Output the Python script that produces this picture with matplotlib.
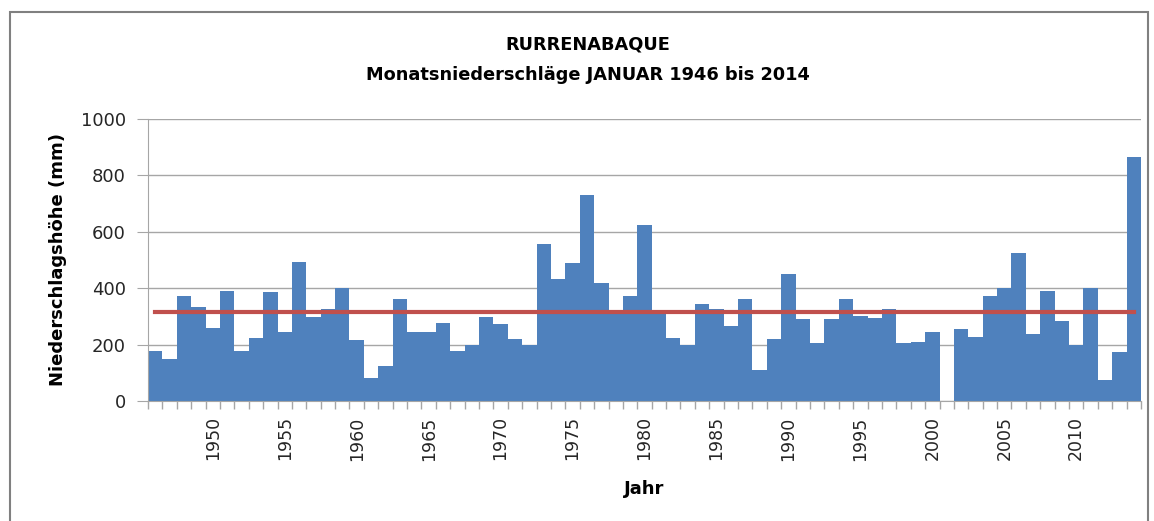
import numpy as np
import matplotlib.pyplot as plt
from matplotlib.patches import Rectangle

# Monatsniederschlag Januar, Rurrenabaque (mm), 2001 fehlt
years = list(range(1946, 2015))
rain = [177, 148, 373, 334, 258, 391, 177, 224, 385, 243,
        492, 299, 328, 402, 217, 82, 123, 360, 243, 243,
        278, 177, 200, 299, 273, 220, 200, 557, 434, 488,
        730, 419, 322, 373, 623, 312, 224, 200, 344, 327,
        265, 363, 111, 220, 450, 290, 204, 290, 363, 301,
        296, 327, 204, 210, 245, np.nan, 257, 227, 374, 399,
        524, 239, 390, 282, 198, 402, 76, 174, 866]
mean_rain = 316
label_years = list(range(1950, 2015, 5))

plt.rcParams['font.family'] = 'DejaVu Sans'

fig = plt.figure(figsize=(11.54, 5.21), dpi=100)
ax = fig.add_axes([148/1154, 1-401/521, (1141-148)/1154, (401-119)/521])

ax.bar(years, rain, width=1.0, color='#4F81BD', zorder=2)
ax.plot(years, [mean_rain]*len(years), color='#C0504D', linewidth=3, zorder=3)

ax.set_xlim(1945.5, 2014.5)
ax.set_ylim(0, 1000)
ax.set_yticks(range(0, 1001, 200))
ax.yaxis.grid(True, color='#A6A6A6', linewidth=1, zorder=0)
ax.set_axisbelow(True)

ax.set_xticks(label_years)
ax.set_xticklabels([str(y) for y in label_years], rotation=90)
ax.set_xticks(np.arange(1945.5, 2015, 1), minor=True)
ax.tick_params(axis='x', which='major', length=0, pad=11, labelsize=12.5, labelcolor='#262626')
ax.tick_params(axis='x', which='minor', length=6, color='#A6A6A6', width=1)
ax.tick_params(axis='y', length=8, color='#A6A6A6', pad=8, labelsize=13, labelcolor='#262626')

for s in ['top', 'right']:
    ax.spines[s].set_visible(False)
for s in ['left', 'bottom']:
    ax.spines[s].set_color('#A6A6A6')

ax.set_ylabel('Niederschlagshöhe (mm)', fontsize=13, fontweight='bold', labelpad=10)
ax.set_xlabel('Jahr', fontsize=13, fontweight='bold', labelpad=14)

fig.text(588/1154, 1-45/521, 'RURRENABAQUE', ha='center', va='center',
         fontsize=12.8, fontweight='bold')
fig.text(588/1154, 1-75/521, 'Monatsniederschläge JANUAR 1946 bis 2014', ha='center',
         va='center', fontsize=12.8, fontweight='bold')

fig.patches.append(Rectangle((10/1154, -0.05), 1138/1154, 1-12/521+0.05,
                             transform=fig.transFigure, fill=False,
                             edgecolor='#808080', linewidth=1.5))

fig.savefig('out.png', dpi=100)
